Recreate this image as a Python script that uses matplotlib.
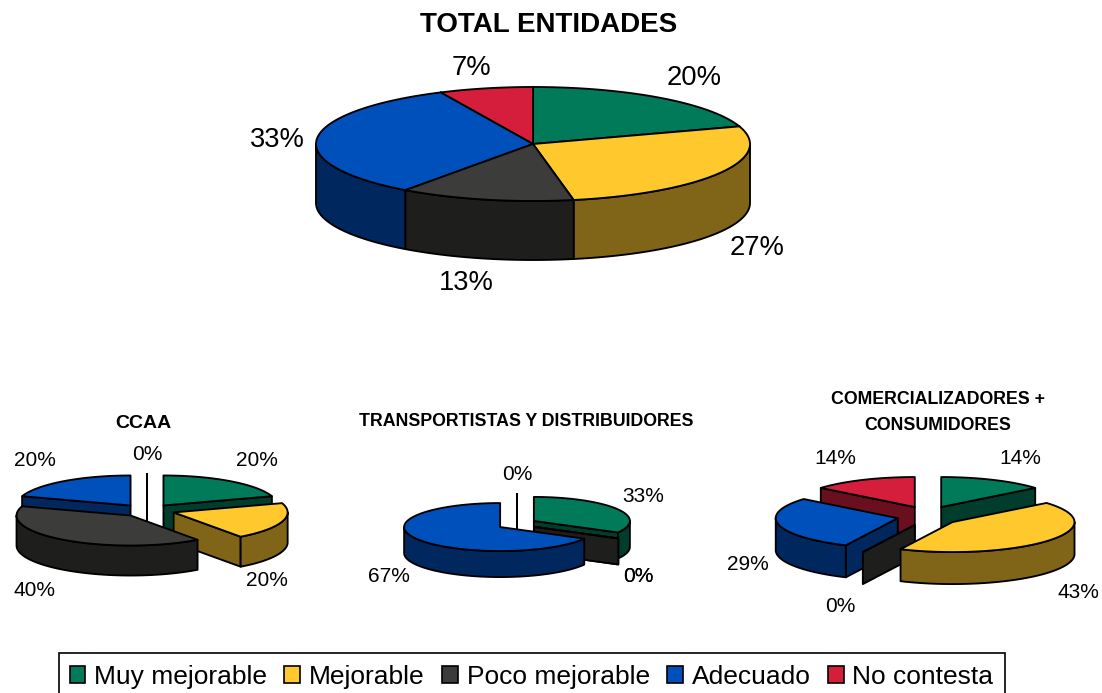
import numpy as np
import matplotlib
matplotlib.use("Agg")
import matplotlib.pyplot as plt
from matplotlib.patches import Polygon, Patch, Rectangle

categories = ["Muy mejorable", "Mejorable", "Poco mejorable", "Adecuado", "No contesta"]
total_values = [20, 27, 13, 33, 7]
ccaa_values = [20, 20, 40, 20, 0]
transp_values = [33, 0, 0, 67, 0]
comerc_values = [14, 43, 0, 29, 14]

top_colors = ["#007A58", "#FFC92E", "#3C3D3A", "#0050BC", "#D41E3C"]
side_colors = ["#003D2C", "#806417", "#1E1F1D", "#00285E", "#6A0F1E"]

plt.rcParams["font.family"] = ["Liberation Sans", "DejaVu Sans"]

fig = plt.figure(figsize=(11.02, 6.93), dpi=100)
ax = fig.add_axes([0, 0, 1, 1])
ax.set_xlim(0, 1102)
ax.set_ylim(693, 0)
ax.axis("off")


def rim(x0, y0, rx, ry, a0, a1):
    ang = np.radians(np.linspace(a0, a1, 80))
    return x0 + rx * np.sin(ang), y0 - ry * np.cos(ang)


def add_poly(xs, ys, color):
    ax.add_patch(Polygon(np.column_stack([xs, ys]), closed=True, facecolor=color,
                         edgecolor="black", linewidth=1.35, joinstyle="round"))


# one pie: slices are drawn in the order given, back ones first
def draw_pie(values, cx, cy, rx, ry, depth, dx, dy, order):
    edges = np.cumsum([0] + list(values)) / sum(values) * 360
    for i in order:
        a0, a1 = edges[i], edges[i + 1]
        mid = np.radians((a0 + a1) / 2)
        x0 = cx + dx * np.sin(mid)
        y0 = cy - dy * np.cos(mid)

        # cut faces that look to the viewer
        for a, visible in ((a0, np.sin(np.radians(a0)) < 0), (a1, np.sin(np.radians(a1)) > 0)):
            if visible:
                ex, ey = rim(x0, y0, rx, ry, a, a)
                add_poly([x0, ex[0], ex[0], x0], [y0, ey[0], ey[0] + depth, y0 + depth], side_colors[i])

        # outer wall, only the front half of the rim shows
        f0, f1 = max(a0, 90), min(a1, 270)
        if f1 > f0:
            xs, ys = rim(x0, y0, rx, ry, f0, f1)
            add_poly(np.r_[xs, xs[::-1]], np.r_[ys, ys[::-1] + depth], side_colors[i])

        xs, ys = rim(x0, y0, rx, ry, a0, a1)
        add_poly(np.r_[x0, xs], np.r_[y0, ys], top_colors[i])


def draw_labels(values, places, size):
    for v, (x, y) in zip(values, places):
        ax.text(x, y, f"{v}%", fontsize=size, ha="center", va="center")


draw_pie(total_values, 533, 144, 217, 57, 59, 0, 0, [0, 4, 1, 3, 2])
draw_labels(total_values, [(694, 78), (757, 248), (466, 283), (277, 140), (471, 68)], 19.7)
ax.text(549, 25, "TOTAL ENTIDADES", fontsize=20, fontweight="bold", ha="center", va="center")

draw_pie(ccaa_values, 147, 510.5, 114, 30, 30, 28, 6.2, [0, 3, 4, 1, 2])
draw_labels(ccaa_values, [(257, 461), (267, 581), (35, 591), (35, 460), (147, 455)], 15)
ax.text(143, 424, "CCAA", fontsize=14, fontweight="bold", ha="center", va="center")

draw_pie(transp_values, 517, 524, 96, 24, 26, 19.6, 6, [0, 4, 1, 2, 3])
draw_labels(transp_values, [(643, 497), (638, 576), (638, 576), (389, 577), (517, 475)], 15)
ax.text(526, 421, "TRANSPORTISTAS Y DISTRIBUIDORES", fontsize=12.75, fontweight="bold", ha="center", va="center")

draw_pie(comerc_values, 928, 516, 122, 30, 32, 31, 9.9, [0, 4, 3, 2, 1])
draw_labels(comerc_values, [(1020, 458), (1078, 592), (840, 606), (748, 564), (835, 459)], 15)
ax.text(938, 400, "COMERCIALIZADORES +", fontsize=12.8, fontweight="bold", ha="center", va="center")
ax.text(938, 426, "CONSUMIDORES", fontsize=12.8, fontweight="bold", ha="center", va="center")

# legend box runs off the bottom of the picture
ax.add_patch(Rectangle((59, 653), 946, 60, facecolor="white", edgecolor="black", linewidth=1.2))
handles = [Patch(facecolor=c, edgecolor="black", linewidth=1.2) for c in top_colors]
leg = ax.legend(handles, categories, loc="center left", bbox_to_anchor=(69.5 / 1102, 1 - 677 / 693),
                ncols=5, fontsize=19, frameon=False, borderaxespad=0, borderpad=0,
                handlelength=0.59, handleheight=0.59, handletextpad=0.34, columnspacing=0.66)

fig.savefig("out.png", dpi=100)
